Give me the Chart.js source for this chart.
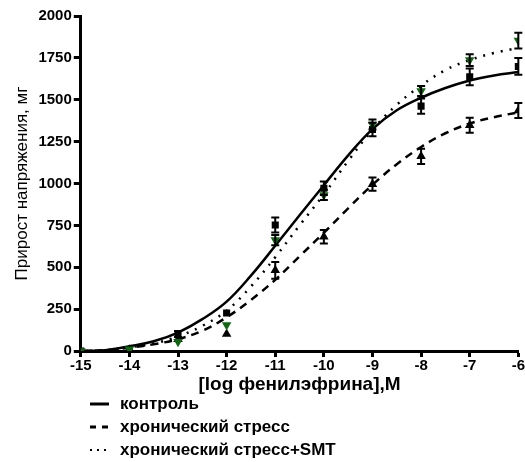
<!DOCTYPE html>
<html>
<head>
<meta charset="utf-8">
<script src="https://cdn.jsdelivr.net/npm/chart.js@4.4.1/dist/chart.umd.min.js"></script>
<style>
    html, body { margin: 0; padding: 0; background: #fff; }
    #wrap { width: 525px; height: 462px; position: relative; }
</style>
</head>
<body>
<div id="wrap"><canvas id="chart"></canvas></div>
<script>
// Data
const doses = [-15, -14, -13, -12, -11, -10, -9, -8, -7, -6];
const controlMean = [0, 8, 101, 227, 752, 972, 1322, 1462, 1637, 1699];
const controlErr  = [0, 0, 18, 0, 45, 40, 40, 45, 50, 50];
const stressMean  = [0, 8, 70, 101, 482, 682, 996, 1162, 1348, 1436];
const stressErr   = [0, 0, 0, 0, 50, 40, 40, 45, 45, 45];
const smtMean     = [0, 10, 55, 155, 662, 932, 1352, 1552, 1737, 1853];
const smtErr      = [0, 0, 0, 0, 30, 30, 30, 30, 35, 47];

// fitted curves, sampled every half log unit
const curveDoses = [-15, -14.5, -14, -13.5, -13, -12.5, -12, -11.5, -11, -10.5,
                    -10, -9.5, -9, -8.5, -8, -7.5, -7, -6.5, -6];
const controlCurve = [0, 5, 28, 58, 110, 190, 295, 450, 628, 810,
                      990, 1168, 1325, 1437, 1512, 1570, 1615, 1645, 1665];
const stressCurve  = [0, 5, 20, 40, 71, 121, 201, 305, 425, 565,
                      706, 852, 992, 1115, 1218, 1300, 1358, 1396, 1425];
const smtCurve     = [0, 5, 22, 45, 87, 150, 241, 385, 560, 750,
                      935, 1135, 1320, 1470, 1585, 1677, 1737, 1779, 1809];

const yTicks = [0, 250, 500, 750, 1000, 1250, 1500, 1750, 2000];
const xTitle = '[log фенилэфрина],М';
const yTitle = 'Прирост напряжения, мг';
const legendLabels = ['контроль', 'хронический стресс', 'хронический стресс+SMT'];

const GREEN = '#116611';
const FONT = "'Liberation Sans', Arial, sans-serif";

function pts(xs, ys) {
    return xs.map((x, i) => ({ x: x, y: ys[i] }));
}

// Error bars, drawn through the chart scales
const errorBars = {
    id: 'errorBars',
    afterDatasetsDraw(chart) {
        const ctx = chart.ctx;
        const xs = chart.scales.x, ys = chart.scales.y;
        ctx.save();
        ctx.strokeStyle = '#000';
        ctx.lineWidth = 2;
        chart.data.datasets.forEach(ds => {
            if (!ds.errors) return;
            ds.data.forEach((p, i) => {
                const e = ds.errors[i];
                if (!e) return;
                const px = xs.getPixelForValue(p.x);
                const top = ys.getPixelForValue(p.y + e);
                const bot = ys.getPixelForValue(p.y - e);
                ctx.beginPath();
                ctx.moveTo(px, top); ctx.lineTo(px, bot);
                ctx.moveTo(px - 4, top); ctx.lineTo(px + 4, top);
                ctx.moveTo(px - 4, bot); ctx.lineTo(px + 4, bot);
                ctx.stroke();
            });
        });
        ctx.restore();
    }
};

// x title + legend below the axis: line sample + label per row
const lineLegend = {
    id: 'lineLegend',
    afterDraw(chart) {
        const ctx = chart.ctx;
        const area = chart.chartArea;
        ctx.save();
        ctx.fillStyle = '#000';
        ctx.textBaseline = 'middle';
        ctx.textAlign = 'center';
        ctx.font = 'bold 19px ' + FONT;
        ctx.fillText(xTitle, (area.left + area.right) / 2, 385);

        const styles = [[], [6, 6], [2, 5]];
        const rowY = [404, 427, 450];
        ctx.textAlign = 'left';
        ctx.font = 'bold 17px ' + FONT;
        legendLabels.forEach((label, i) => {
            ctx.strokeStyle = '#000';
            ctx.lineWidth = i === 2 ? 2 : 3;
            ctx.setLineDash(styles[i]);
            ctx.beginPath();
            ctx.moveTo(90, rowY[i]);
            ctx.lineTo(109, rowY[i]);
            ctx.stroke();
            ctx.setLineDash([]);
            ctx.fillText(label, 120, rowY[i]);
        });
        ctx.restore();
    }
};

const ctx = document.getElementById('chart').getContext('2d');

const lineCommon = {
    type: 'line',
    borderColor: '#000',
    borderWidth: 2.5,
    pointRadius: 0,
    showLine: true,
    tension: 0.4,
    order: 2
};

new Chart(ctx, {
    type: 'scatter',
    data: {
        datasets: [
            Object.assign({}, lineCommon, {
                label: legendLabels[0] + ' (fit)',
                data: pts(curveDoses, controlCurve)
            }),
            Object.assign({}, lineCommon, {
                label: legendLabels[1] + ' (fit)',
                data: pts(curveDoses, stressCurve),
                borderDash: [8, 6]
            }),
            Object.assign({}, lineCommon, {
                label: legendLabels[2] + ' (fit)',
                data: pts(curveDoses, smtCurve),
                borderDash: [2, 7]
            }),
            {
                label: legendLabels[0],
                data: pts(doses, controlMean),
                errors: controlErr,
                pointStyle: 'rect',
                pointRadius: 5,
                backgroundColor: '#000',
                borderColor: '#000',
                borderWidth: 0,
                order: 1
            },
            {
                label: legendLabels[1],
                data: pts(doses, stressMean),
                errors: stressErr,
                pointStyle: 'triangle',
                pointRadius: 5.5,
                backgroundColor: '#000',
                borderColor: '#000',
                borderWidth: 0,
                order: 1
            },
            {
                label: legendLabels[2],
                data: pts(doses, smtMean),
                errors: smtErr,
                pointStyle: 'triangle',
                rotation: 180,
                pointRadius: 5.5,
                backgroundColor: GREEN,
                borderColor: GREEN,
                borderWidth: 0,
                order: 0
            }
        ]
    },
    options: {
        responsive: true,
        maintainAspectRatio: false,
        animation: false,
        layout: { padding: { top: 16, right: 6, left: 12, bottom: 87 } },
        plugins: {
            legend: { display: false },
            tooltip: { enabled: false }
        },
        scales: {
            x: {
                type: 'linear',
                min: -15,
                max: -6,
                ticks: {
                    stepSize: 1,
                    color: '#000',
                    font: { family: FONT, size: 15, weight: 'bold' },
                    padding: 0
                },
                grid: {
                    drawOnChartArea: false,
                    drawTicks: true,
                    tickLength: 6,
                    tickWidth: 3,
                    color: '#000'
                },
                border: { color: '#000', width: 3 }
            },
            y: {
                type: 'linear',
                min: 0,
                max: 2000,
                afterBuildTicks: axis => {
                    axis.ticks = yTicks.map(v => ({ value: v }));
                },
                ticks: {
                    color: '#000',
                    font: { family: FONT, size: 15, weight: 'bold' },
                    padding: 2,
                    callback: v => String(v)
                },
                grid: {
                    drawOnChartArea: false,
                    drawTicks: true,
                    tickLength: 7,
                    tickWidth: 3,
                    color: '#000'
                },
                border: { color: '#000', width: 3 },
                title: {
                    display: true,
                    text: yTitle,
                    color: '#000',
                    font: { family: FONT, size: 17 },
                    padding: { top: 0, bottom: 4 }
                }
            }
        }
    },
    plugins: [errorBars, lineLegend]
});
</script>
</body>
</html>
